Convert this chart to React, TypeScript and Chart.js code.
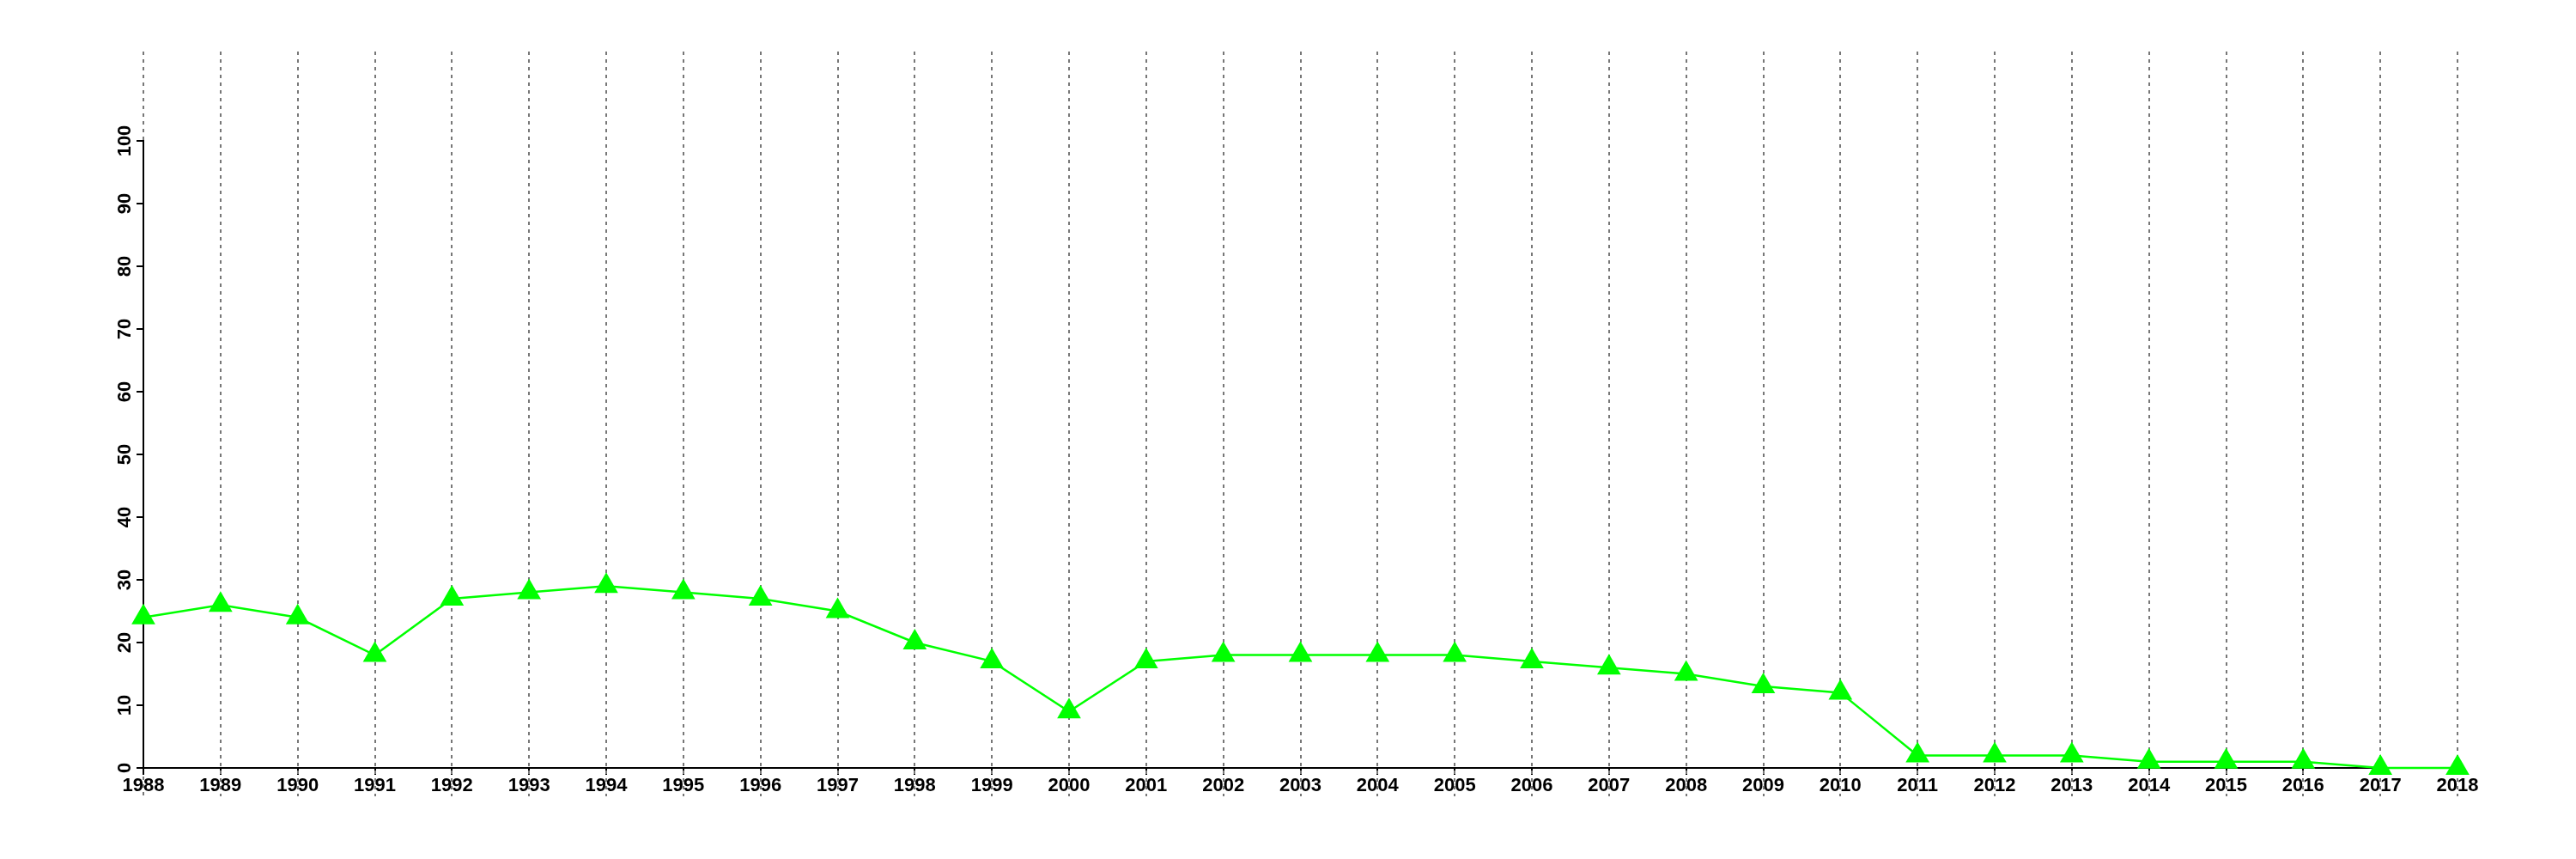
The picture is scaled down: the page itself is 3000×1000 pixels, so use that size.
import React, { useEffect, useRef } from "react";
import { Chart, registerables } from "chart.js";

Chart.register(...registerables);

const years = [
  "1988", "1989", "1990", "1991", "1992", "1993", "1994", "1995", "1996", "1997",
  "1998", "1999", "2000", "2001", "2002", "2003", "2004", "2005", "2006", "2007",
  "2008", "2009", "2010", "2011", "2012", "2013", "2014", "2015", "2016", "2017", "2018",
];
const values = [
  24, 26, 24, 18, 27, 28, 29, 28, 27, 25,
  20, 17, 9, 17, 18, 18, 18, 18, 17, 16,
  15, 13, 12, 2, 2, 2, 1, 1, 1, 0, 0,
];
const yTickValues = [0, 10, 20, 30, 40, 50, 60, 70, 80, 90, 100];

const FONT = "bold 22px 'Liberation Sans', Arial, sans-serif";

const decorPlugin = {
  id: "decor",
  beforeDatasetsDraw(chart: any) {
    const { ctx, chartArea, scales } = chart;
    const x = scales.x;
    const y = scales.y;
    ctx.save();
    // vertical dashed grid lines
    ctx.strokeStyle = "#777777";
    ctx.lineWidth = 2;
    ctx.setLineDash([4, 5]);
    for (let i = 0; i < years.length; i++) {
      const px = Math.round(x.getPixelForValue(i));
      ctx.beginPath();
      if (i === 0) {
        ctx.moveTo(px, chartArea.top - 104);
        ctx.lineTo(px, chartArea.top - 1);
        ctx.moveTo(px, chartArea.bottom + 10);
        ctx.lineTo(px, chartArea.bottom + 33);
      } else {
        ctx.moveTo(px, chartArea.top - 104);
        ctx.lineTo(px, chartArea.bottom + 33);
      }
      ctx.stroke();
    }
    ctx.setLineDash([]);
    // rotated y labels
    ctx.fillStyle = "#000000";
    ctx.font = FONT;
    ctx.textAlign = "center";
    ctx.textBaseline = "alphabetic";
    for (const v of yTickValues) {
      const py = y.getPixelForValue(v);
      ctx.save();
      ctx.translate(chartArea.left - 15, py);
      ctx.rotate(-Math.PI / 2);
      ctx.fillText(String(v), 0, 0);
      ctx.restore();
    }
    ctx.restore();
  },
};

export default function App() {
  const ref = useRef<HTMLCanvasElement | null>(null);
  useEffect(() => {
    if (!ref.current) return;
    const chart = new Chart(ref.current, {
      type: "line",
      data: {
        labels: years,
        datasets: [
          {
            data: values,
            borderColor: "#00ff00",
            backgroundColor: "#00ff00",
            borderWidth: 2.5,
            pointStyle: "triangle",
            pointRadius: 16,
            pointHoverRadius: 16,
            pointBackgroundColor: "#00ff00",
            pointBorderColor: "#00ff00",
            pointBorderWidth: 0,
            tension: 0,
            fill: false,
            clip: false,
          },
        ],
      },
      options: {
        responsive: false,
        animation: false,
        events: [],
        layout: { padding: { top: 164, right: 138, left: 0, bottom: 0 } },
        plugins: { legend: { display: false }, tooltip: { enabled: false }, title: { display: false } },
        scales: {
          x: {
            type: "category",
            offset: false,
            border: { display: true, color: "#000000", width: 2 },
            grid: {
              display: true,
              drawOnChartArea: false,
              drawTicks: true,
              tickLength: 8,
              color: "#000000",
              lineWidth: 2,
            },
            ticks: {
              color: "#000000",
              font: { family: "'Liberation Sans', Arial, sans-serif", size: 22, weight: "bold" },
              padding: 0,
              maxRotation: 0,
              minRotation: 0,
              autoSkip: false,
            },
            afterFit: (s: any) => {
              s.height = 106;
            },
          },
          y: {
            type: "linear",
            min: 0,
            max: 100,
            border: { display: true, color: "#000000", width: 2 },
            grid: {
              display: true,
              drawOnChartArea: false,
              drawTicks: true,
              tickLength: 8,
              color: "#000000",
              lineWidth: 2,
            },
            ticks: {
              stepSize: 10,
              display: false,
            },
            afterFit: (s: any) => {
              s.width = 167;
            },
          },
        },
      },
      plugins: [decorPlugin],
    } as any);
    return () => chart.destroy();
  }, []);
  return (
    <div style={{ position: "fixed", left: 0, top: 0, width: 3000, height: 1000, background: "#ffffff" }}>
      <canvas ref={ref} width={3000} height={1000} style={{ width: 3000, height: 1000, display: "block" }} />
    </div>
  );
}
